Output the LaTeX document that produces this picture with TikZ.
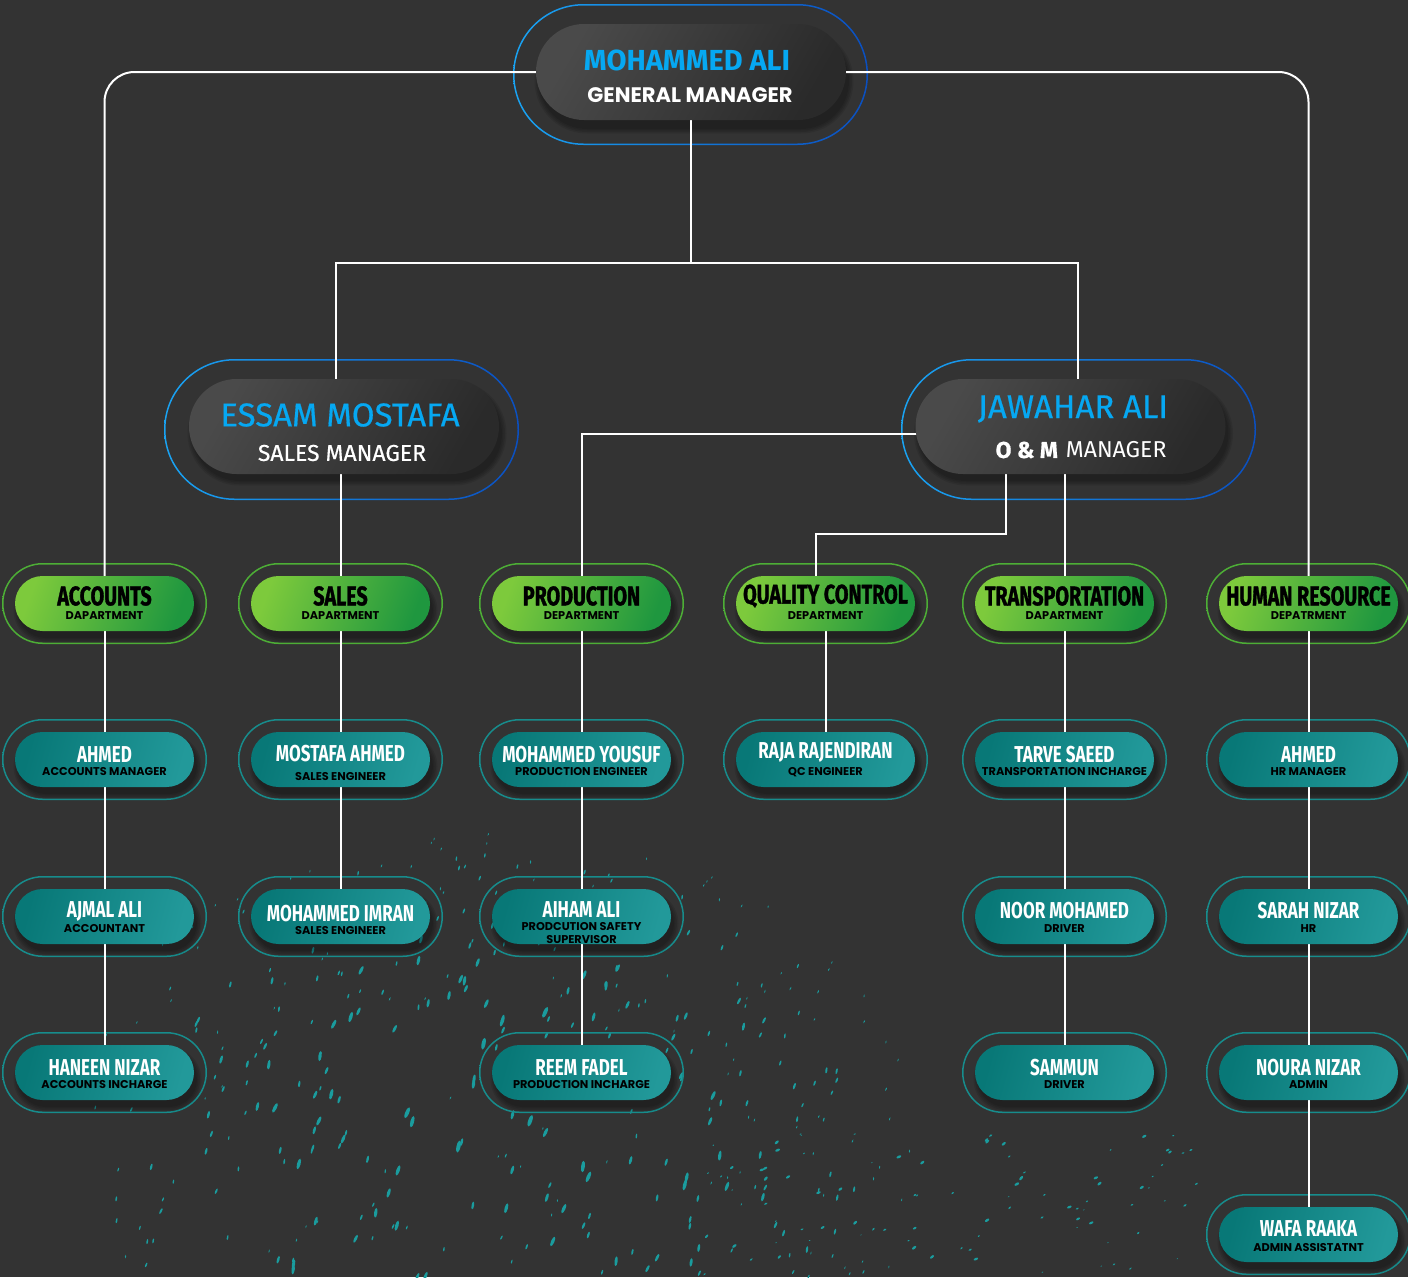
\documentclass[tikz,border=0pt]{standalone}
\usepackage{fontspec}
\setmainfont{Fira Sans}
\newfontfamily\medf{Fira Sans}[FakeBold=0.5]
\newfontfamily\namef{Fira Sans}[FakeStretch=0.74]
\newfontfamily\deptf{Fira Sans}[FakeStretch=0.73,FakeBold=1.2]
\newfontfamily\popf{Poppins}
\usetikzlibrary{shapes.misc}
\pgfdeclarelayer{bglayer}
\pgfdeclarelayer{ringlayer}
\pgfdeclarelayer{linelayer}
\pgfsetlayers{bglayer,ringlayer,linelayer,main}

\definecolor{bgc}{HTML}{333333}
\definecolor{blueA}{HTML}{1AA3F2}
\definecolor{blueB}{HTML}{0B4FC0}
\definecolor{bluetext}{HTML}{06A8F2}
\definecolor{mgrA}{HTML}{4A4A4A}
\definecolor{mgrB}{HTML}{2A2A2A}
\definecolor{grnA}{HTML}{7DCA3C}
\definecolor{grnB}{HTML}{1F973F}
\definecolor{grnRing}{HTML}{4DAE36}
\definecolor{tealA}{HTML}{087877}
\definecolor{tealB}{HTML}{22999A}
\definecolor{tealRing}{HTML}{178C8C}
\definecolor{partc}{HTML}{1A9C9E}

\tikzset{
 conn/.style={draw=white, line width=2pt},
 pillbase/.style={rounded rectangle, inner sep=0pt, draw=none},
 mgrpill/.style={pillbase, minimum width=310pt, minimum height=96pt, left color=mgrA, right color=mgrB, shading angle=60},
 deptpill/.style={pillbase, minimum width=179pt, minimum height=55pt, left color=grnA, right color=grnB, shading angle=70},
 emppill/.style={pillbase, minimum width=179pt, minimum height=55pt, left color=tealA, right color=tealB, shading angle=75},
 txt/.style={inner sep=0pt, anchor=center},
 gmname/.style={txt, text=bluetext, font=\bfseries\fontsize{29}{29}\selectfont},
 gmsub/.style={txt, text=white, font=\popf\bfseries\fontsize{21}{21}\selectfont},
 mgrname/.style={txt, text=bluetext, font=\medf\fontsize{33}{33}\selectfont},
 mgrsub/.style={txt, text=white, font=\medf\fontsize{23}{23}\selectfont},
 deptname/.style={txt, text=black, font=\deptf\bfseries\fontsize{27}{27}\selectfont},
 deptsub/.style={txt, text=black, font=\popf\bfseries\fontsize{11.3}{11.3}\selectfont},
 empname/.style={txt, text=white, font=\namef\bfseries\fontsize{23}{23}\selectfont},
 empsub/.style={txt, text=black, align=center, font=\popf\bfseries\fontsize{11.3}{13.5}\selectfont},
 particle/.style={fill=partc},
}

% ring outline with horizontal gradient: cx, cy, w, h, colourA, colourB
\newcommand\ringpill[6]{%
  \pgfmathsetmacro\rra{#4/2}\pgfmathsetmacro\rrb{#4/2-1.5}%
  \path[even odd rule, left color=#5, right color=#6]
    [rounded corners=\rra pt] ({#1-#3/2},{#2-#4/2}) rectangle ({#1+#3/2},{#2+#4/2})
    [rounded corners=\rrb pt] ({#1-#3/2+1.5},{#2-#4/2+1.5}) rectangle ({#1+#3/2-1.5},{#2+#4/2-1.5});}

% soft shadow: cx, cy, w, h
\newcommand\shadowpill[4]{%
  \foreach \k in {0,3,6,9}{%
    \pgfmathsetmacro\rrc{(#4+\k)/2}%
    \fill[black, opacity=0.09, rounded corners=\rrc pt]
      ({#1+3-(#3+\k)/2},{#2+7-(#4+\k)/2}) rectangle ({#1+3+(#3+\k)/2},{#2+7+(#4+\k)/2});}}

% employee: id, x, y, name, subtitle, name dy, subtitle dy
\newcommand\emp[7]{%
  \begin{pgfonlayer}{ringlayer}
    \ringpill{#2}{#3}{205}{81}{tealRing}{tealRing}
    \shadowpill{#2}{#3}{179}{55}
  \end{pgfonlayer}
  \node[emppill] (#1) at (#2,#3) {};
  \node[empname] (#1-n) at (#2,{#3+(#6)}) {#4};
  \node[empsub] (#1-s) at (#2,{#3+(#7)}) {#5};}

% department: id, x, name, subtitle
\newcommand\dept[4]{%
  \begin{pgfonlayer}{ringlayer}
    \ringpill{#2}{603.5}{205}{81}{grnRing}{grnRing}
    \shadowpill{#2}{603.5}{179}{55}
  \end{pgfonlayer}
  \node[deptpill] (#1) at (#2,603.5) {};
  \node[deptname] (#1-n) at (#2,596) {#3};
  \node[deptsub] (#1-s) at (#2,615.5) {#4};}

\begin{document}
\begin{tikzpicture}[x=1pt,y=-1pt]
\useasboundingbox (0,0) rectangle (1408,1277);
\begin{pgfonlayer}{bglayer}
  \fill[bgc] (0,0) rectangle (1408,1277);
  \pgfmathsetseed{11}
  % main cloud of teal streaks
  \foreach \i in {1,...,520}{%
    \pgfmathsetmacro\px{40+rnd*900}%
    \pgfmathsetmacro\py{800+rnd*477}%
    \pgfmathsetmacro\dd{((\px-490)/430)^2+((\py-1150)/320)^2}%
    \ifdim\dd pt<1pt
      \pgfmathsetmacro\sz{1.5+5.5*rnd*(1-\dd)}%
      \pgfmathsetmacro\ang{62+22*rnd}%
      \fill[particle, rotate around={\ang:(\px,\py)}] (\px,\py) ellipse ({\sz} and {\sz*0.33});
    \fi}
  % fine specks trailing to the lower right
  \foreach \i in {1,...,90}{%
    \pgfmathsetmacro\px{700+rnd*500}%
    \pgfmathsetmacro\py{1130+rnd*147}%
    \pgfmathsetmacro\sz{0.8+1.8*rnd}%
    \pgfmathsetmacro\ang{20+30*rnd}%
    \fill[particle, rotate around={\ang:(\px,\py)}] (\px,\py) ellipse ({\sz} and {\sz*0.5});}
\end{pgfonlayer}

% ---------- managers ----------
\begin{pgfonlayer}{ringlayer}
  \ringpill{690.5}{74.5}{355}{141}{blueA}{blueB}
  \shadowpill{691}{74}{310}{96}
  \ringpill{341.5}{429.5}{355}{141}{blueA}{blueB}
  \shadowpill{344}{426.5}{310}{95}
  \ringpill{1078.5}{429.5}{355}{141}{blueA}{blueB}
  \shadowpill{1070.5}{426.5}{310}{95}
\end{pgfonlayer}
\node[mgrpill] (gm) at (691,72) {};
\node[gmname] (gm-n) at (687,60) {MOHAMMED ALI};
\node[gmsub] (gm-s) at (690,95) {GENERAL MANAGER};
\node[mgrpill, minimum height=95pt] (em) at (344,426.5) {};
\node[mgrname] (em-n) at (340,415) {ESSAM MOSTAFA};
\node[mgrsub] (em-s) at (342,453) {SALES MANAGER};
\node[mgrpill, minimum height=95pt] (jw) at (1070.5,426.5) {};
\node[mgrname] (jw-n) at (1073,409) {JAWAHAR ALI};
\node[mgrsub] (jw-s) at (1081,450) {\bfseries O \& M\hspace{8pt}\mdseries\normalfont MANAGER};

% ---------- departments ----------
\dept{acc}{104.5}{ACCOUNTS}{DAPARTMENT}
\dept{sal}{340.5}{SALES}{DAPARTMENT}
\dept{prd}{581.5}{PRODUCTION}{DEPARTMENT}
\dept{qc}{825.5}{QUALITY CONTROL}{DEPARTMENT}
\dept{trn}{1064.5}{TRANSPORTATION}{DAPARTMENT}
\dept{hr}{1308.5}{HUMAN RESOURCE}{DEPATRMENT}

% ---------- staff ----------
\emp{a1}{104.5}{759.5}{AHMED}{ACCOUNTS MANAGER}{-5}{12.5}
\emp{s1}{340.5}{759.5}{MOSTAFA AHMED}{SALES ENGINEER}{-5.5}{17.5}
\emp{p1}{581.5}{759.5}{MOHAMMED YOUSUF}{PRODUCTION ENGINEER}{-4.5}{12.5}
\emp{q1}{825.5}{759.5}{RAJA RAJENDIRAN}{QC ENGINEER}{-7.5}{12.5}
\emp{t1}{1064.5}{759.5}{TARVE SAEED}{TRANSPORTATION INCHARGE}{-4.5}{12.5}
\emp{h1}{1308.5}{759.5}{AHMED}{HR MANAGER}{-4.5}{12.5}

\emp{a2}{104.5}{916.5}{AJMAL ALI}{ACCOUNTANT}{-5.5}{12.5}
\emp{s2}{340.5}{916.5}{MOHAMMED IMRAN}{SALES ENGINEER}{-2.5}{14.5}
\emp{p2}{581.5}{916.5}{AIHAM ALI}{PRODCUTION SAFETY\\SUPERVISOR}{-6.5}{16.5}
\emp{t2}{1064.5}{916.5}{NOOR MOHAMED}{DRIVER}{-5.5}{12.5}
\emp{h2}{1308.5}{916.5}{SARAH NIZAR}{HR}{-5.5}{12.5}

\emp{a3}{104.5}{1072.5}{HANEEN NIZAR}{ACCOUNTS INCHARGE}{-4.5}{12.5}
\emp{p3}{581.5}{1072.5}{REEM FADEL}{PRODUCTION INCHARGE}{-4.5}{12.5}
\emp{t3}{1064.5}{1072.5}{SAMMUN}{DRIVER}{-4.5}{12.5}
\emp{h3}{1308.5}{1072.5}{NOURA NIZAR}{ADMIN}{-4.5}{12.5}

\emp{h4}{1308.5}{1234.5}{WAFA RAAKA}{ADMIN ASSISTATNT}{-5.5}{12.5}

% ---------- connectors ----------
\begin{pgfonlayer}{linelayer}
  \coordinate (jn) at (691,263);
  \coordinate (jl) at (336,263);
  \coordinate (jr) at (1078,263);
  \coordinate (pj) at (581.5,434);
  \coordinate (qa) at (1006,534);
  \coordinate (qb) at (816,534);
  \draw[conn, rounded corners=30pt] (gm) -| (acc);
  \draw[conn, rounded corners=30pt] (gm) -| (hr);
  \draw[conn] (gm) -- (jn);
  \draw[conn] (em.center -| jl) -- (jl) -- (jr) -- (jw.center -| jr);
  \draw[conn] (sal.center |- em.center) -- (sal);
  \draw[conn] (jw.center |- pj) -- (pj) -- (prd);
  \draw[conn] (jw.center -| qa) -- (qa) -- (qb) -- (qc.center -| qb);
  \draw[conn] (trn.center |- jw.center) -- (trn);
  \draw[conn] (acc) -- (a1) -- (a2) -- (a3);
  \draw[conn] (sal) -- (s1) -- (s2);
  \draw[conn] (prd) -- (p1) -- (p2) -- (p3);
  \draw[conn] (qc) -- (q1);
  \draw[conn] (trn) -- (t1) -- (t2) -- (t3);
  \draw[conn] (hr) -- (h1) -- (h2) -- (h3) -- (h4);
\end{pgfonlayer}
\end{tikzpicture}
\end{document}
